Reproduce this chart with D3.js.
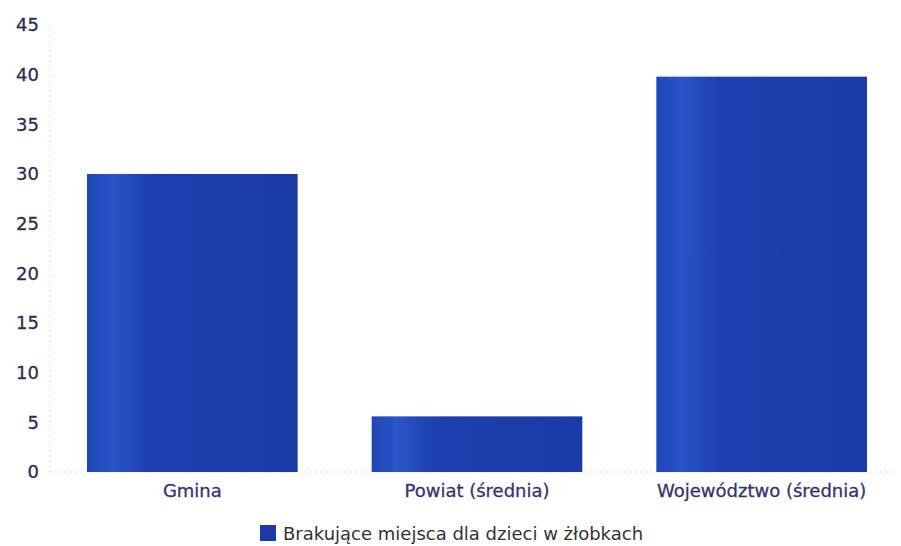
<!DOCTYPE html>
<html><head><meta charset="utf-8">
<script src="https://cdn.jsdelivr.net/npm/d3@7"></script>
<style>body{margin:0;background:#fff}svg{display:block}</style>
</head><body><svg id="c" width="901" height="546"></svg>
<script>
const categories = ["Gmina", "Powiat (średnia)", "Województwo (średnia)"];
const values = [30, 5.6, 39.8];
const yTicks = [0, 5, 10, 15, 20, 25, 30, 35, 40, 45];
const seriesName = "Brakujące miejsca dla dzieci w żłobkach";

const svg = d3.select("#c");
const font = "'DejaVu Sans', sans-serif";
const x = d3.scaleBand().domain(categories).range([50, 904]).paddingInner(0.26).paddingOuter(0.13);
const y = d3.scaleLinear().domain([0, 45]).range([472, 25]);

const defs = svg.append("defs");
const g = defs.append("linearGradient").attr("id", "bg").attr("x1", 0).attr("x2", 1);
g.append("stop").attr("offset", "0%").attr("stop-color", "#1e45b8");
g.append("stop").attr("offset", "12%").attr("stop-color", "#2a55c6");
g.append("stop").attr("offset", "30%").attr("stop-color", "#1c40b0");
g.append("stop").attr("offset", "100%").attr("stop-color", "#1a3aa6");

svg.append("line").attr("x1", 50).attr("x2", 50).attr("y1", y(45)).attr("y2", y(0))
  .attr("stroke", "#ddd").attr("stroke-dasharray", "2,3");
svg.append("line").attr("x1", 50).attr("x2", 895).attr("y1", y(0)).attr("y2", y(0))
  .attr("stroke", "#ddd").attr("stroke-dasharray", "2,3");

const yAxis = d3.axisLeft(y).tickValues(yTicks).tickSize(0).tickPadding(11);
const ya = svg.append("g").attr("transform", "translate(50,0)").call(yAxis);
ya.select(".domain").remove();
ya.selectAll("text").attr("font-family", font).attr("font-size", 18).attr("fill", "#2e2e4e")
  .attr("stroke", "#2e2e4e").attr("stroke-width", 0.3);

svg.selectAll("rect.bar").data(values).join("rect").attr("class", "bar")
  .attr("x", (d, i) => x(categories[i])).attr("width", x.bandwidth())
  .attr("y", d => y(d)).attr("height", d => y(0) - y(d))
  .attr("fill", "url(#bg)");

const xAxis = d3.axisBottom(x).tickSize(0).tickPadding(12);
const xa = svg.append("g").attr("transform", `translate(0,${y(0)})`).call(xAxis);
xa.select(".domain").remove();
xa.selectAll("text").attr("font-family", font).attr("font-size", 18).attr("fill", "#38336e")
  .attr("stroke", "#38336e").attr("stroke-width", 0.3);

const lg = svg.append("g").attr("transform", "translate(260,525)");
lg.append("rect").attr("width", 16).attr("height", 16).attr("fill", "#1a3aa6");
lg.append("text").attr("x", 23).attr("y", 15).text(seriesName)
  .attr("font-family", font).attr("font-size", 18).attr("fill", "#333");
</script></body></html>
